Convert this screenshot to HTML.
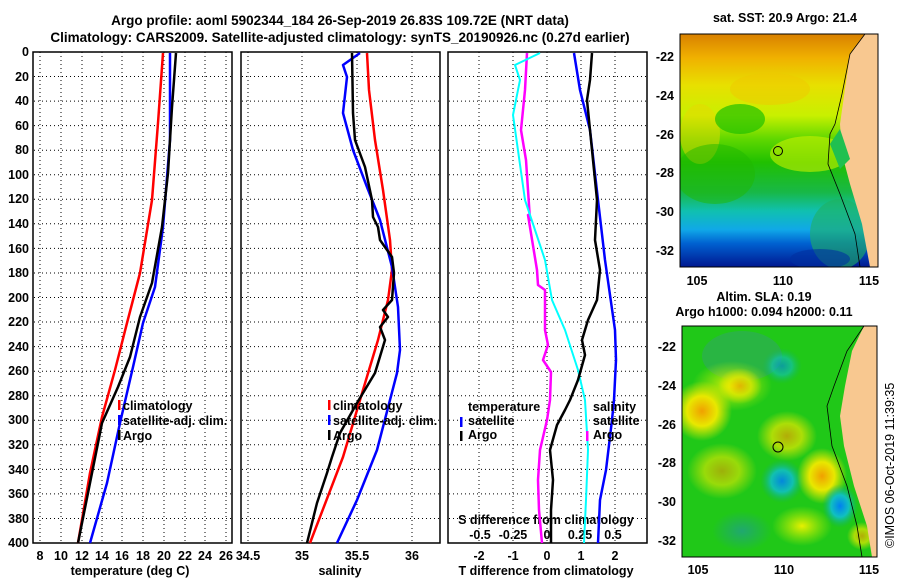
<!DOCTYPE html>
<html><head><meta charset="utf-8"><style>
body{margin:0;background:#fff;}
svg text{font-family:"Liberation Sans",sans-serif;font-weight:bold;font-size:12.5px;fill:#000}
</style></head><body>
<svg width="900" height="580" viewBox="0 0 900 580" xmlns="http://www.w3.org/2000/svg">
<defs>
<linearGradient id="sst" x1="0" y1="0" x2="0" y2="1">
<stop offset="0" stop-color="#d88000"/><stop offset="0.1" stop-color="#f0b000"/><stop offset="0.22" stop-color="#e8e000"/><stop offset="0.35" stop-color="#c8f000"/><stop offset="0.45" stop-color="#60d800"/><stop offset="0.55" stop-color="#20c000"/><stop offset="0.68" stop-color="#18b848"/><stop offset="0.76" stop-color="#10c0b0"/><stop offset="0.84" stop-color="#10a8e8"/><stop offset="0.9" stop-color="#0060d0"/><stop offset="1" stop-color="#001890"/>
</linearGradient>
<radialGradient id="yb"><stop offset="0" stop-color="#f0a000"/><stop offset="0.5" stop-color="#e8e800"/><stop offset="1" stop-color="#e8e800" stop-opacity="0"/></radialGradient>
<radialGradient id="yl"><stop offset="0" stop-color="#e8f000"/><stop offset="1" stop-color="#c0f000" stop-opacity="0"/></radialGradient>
<radialGradient id="bb"><stop offset="0" stop-color="#0080f0"/><stop offset="0.5" stop-color="#10c0c0"/><stop offset="1" stop-color="#10b060" stop-opacity="0"/></radialGradient>
<radialGradient id="gb"><stop offset="0" stop-color="#20a870"/><stop offset="1" stop-color="#20a870" stop-opacity="0"/></radialGradient>
</defs>

<text x="340" y="25" text-anchor="middle" style="font-size:13.5px">Argo profile: aoml 5902344_184 26-Sep-2019 26.83S 109.72E (NRT data)</text>
<text x="340" y="42" text-anchor="middle" style="font-size:13.5px">Climatology: CARS2009. Satellite-adjusted climatology: synTS_20190926.nc (0.27d earlier)</text>

<g stroke="#000" stroke-width="1" stroke-dasharray="1,3">
<g id="hg">
<line x1="34" x2="232" y1="76.5" y2="76.5"/><line x1="34" x2="232" y1="101.1" y2="101.1"/><line x1="34" x2="232" y1="125.6" y2="125.6"/><line x1="34" x2="232" y1="150.2" y2="150.2"/><line x1="34" x2="232" y1="174.7" y2="174.7"/><line x1="34" x2="232" y1="199.3" y2="199.3"/><line x1="34" x2="232" y1="223.8" y2="223.8"/><line x1="34" x2="232" y1="248.4" y2="248.4"/><line x1="34" x2="232" y1="273" y2="273"/><line x1="34" x2="232" y1="297.5" y2="297.5"/><line x1="34" x2="232" y1="322" y2="322"/><line x1="34" x2="232" y1="346.6" y2="346.6"/><line x1="34" x2="232" y1="371.2" y2="371.2"/><line x1="34" x2="232" y1="395.7" y2="395.7"/><line x1="34" x2="232" y1="420.3" y2="420.3"/><line x1="34" x2="232" y1="444.8" y2="444.8"/><line x1="34" x2="232" y1="469.4" y2="469.4"/><line x1="34" x2="232" y1="493.9" y2="493.9"/><line x1="34" x2="232" y1="518.5" y2="518.5"/>
</g>
<use href="#hg" x="208"/><use href="#hg" x="415"/>
<line x1="40" x2="40" y1="52" y2="543"/><line x1="61" x2="61" y1="52" y2="543"/><line x1="82" x2="82" y1="52" y2="543"/><line x1="102" x2="102" y1="52" y2="543"/><line x1="122" x2="122" y1="52" y2="543"/><line x1="143" x2="143" y1="52" y2="543"/><line x1="164" x2="164" y1="52" y2="543"/><line x1="185" x2="185" y1="52" y2="543"/><line x1="205" x2="205" y1="52" y2="543"/><line x1="226" x2="226" y1="52" y2="543"/>
<line x1="248" x2="248" y1="52" y2="543"/><line x1="302" x2="302" y1="52" y2="543"/><line x1="357" x2="357" y1="52" y2="543"/><line x1="412" x2="412" y1="52" y2="543"/>
<line x1="479" x2="479" y1="52" y2="543"/><line x1="513" x2="513" y1="52" y2="543"/><line x1="547" x2="547" y1="52" y2="543"/><line x1="581" x2="581" y1="52" y2="543"/><line x1="615" x2="615" y1="52" y2="543"/>
</g>

<g fill="none" stroke="#000" stroke-width="1.5">
<rect x="33" y="52" width="199" height="491"/><rect x="241" y="52" width="199" height="491"/><rect x="448" y="52" width="199" height="491"/>
</g>

<g text-anchor="end">
<text x="29" y="56">0</text><text x="29" y="81">20</text><text x="29" y="105">40</text><text x="29" y="130">60</text><text x="29" y="154">80</text><text x="29" y="179">100</text><text x="29" y="203">120</text><text x="29" y="228">140</text><text x="29" y="253">160</text><text x="29" y="277">180</text><text x="29" y="302">200</text><text x="29" y="326">220</text><text x="29" y="351">240</text><text x="29" y="375">260</text><text x="29" y="400">280</text><text x="29" y="424">300</text><text x="29" y="449">320</text><text x="29" y="474">340</text><text x="29" y="498">360</text><text x="29" y="523">380</text><text x="29" y="547">400</text>
</g>
<g text-anchor="middle">
<text x="40" y="560">8</text><text x="61" y="560">10</text><text x="82" y="560">12</text><text x="102" y="560">14</text><text x="122" y="560">16</text><text x="143" y="560">18</text><text x="164" y="560">20</text><text x="185" y="560">22</text><text x="205" y="560">24</text><text x="226" y="560">26</text>
<text x="130" y="575">temperature (deg C)</text>
<text x="248" y="560">34.5</text><text x="302" y="560">35</text><text x="357" y="560">35.5</text><text x="412" y="560">36</text>
<text x="340" y="575">salinity</text>
<text x="479" y="560">-2</text><text x="513" y="560">-1</text><text x="547" y="560">0</text><text x="581" y="560">1</text><text x="615" y="560">2</text>
<text x="546" y="575">T difference from climatology</text>
<text x="546" y="524">S difference from climatology</text>
<text x="480" y="539">-0.5</text><text x="513" y="539">-0.25</text><text x="547" y="539">0</text><text x="580" y="539">0.25</text><text x="613" y="539">0.5</text>
</g>

<g fill="none" stroke-width="2.5" stroke-linejoin="round">
<!-- panel 1 -->
<polyline stroke="#f00" points="163,53 158,123 152,200 140,273 127,323 115,370 102,417 90,473 78,543"/>
<polyline stroke="#00f" points="170,53 170,140 163,227 155,287 143,323 133,367 120,423 107,483 90,543"/>
<polyline stroke="#000" points="176,53 172,107 168,173 162,227 152,283 140,317 130,357 118,387 102,423 92,473 78,543"/>
<!-- panel 2 -->
<polyline stroke="#f00" points="367,53 369,90 375,140 383,190 390,240 392,270 388,300 378,340 363,390 343,457 310,543"/>
<polyline stroke="#00f" points="360,53 343,65 347,77 343,113 353,150 367,187 380,220 392,267 398,307 400,350 397,373 377,450 357,500 337,543"/>
<polyline stroke="#000" points="352,53 353,113 355,140 365,167 372,200 373,217 378,227 380,240 392,257 394,273 392,300 383,310 388,317 380,327 385,340 375,373 357,403 340,433 332,457 327,473 317,503 307,543"/>
<!-- panel 3 -->
<polyline stroke="#f0f" points="527,53 525,90 521,130 526,160 530,220 528,215 537,270 538,285 545,290 545,330 548,345 543,360 551,372 550,400 547,420 540,450 538,480 539,510 542,543"/>
<polyline stroke="#0ff" stroke-width="2" points="540,53 515,65 520,80 513,115 525,200 545,260 552,300 565,330 578,370 585,400 588,450 586,500 584,543"/>
<polyline stroke="#00f" points="574,53 580,90 590,130 598,200 605,260 615,330 616,360 614,400 612,420 606,470 600,500 598,543"/>
<polyline stroke="#000" points="592,53 590,80 587,100 592,150 597,200 595,240 600,270 597,300 588,320 582,340 585,355 578,380 570,400 565,410 557,425 550,450 553,480 551,510 551,543"/>
</g>

<rect x="118" y="400" width="2.5" height="10" fill="#f00"/><text x="123" y="410">climatology</text>
<rect x="118" y="415" width="2.5" height="10" fill="#00f"/><text x="123" y="425">satellite-adj. clim.</text>
<rect x="118" y="430" width="2.5" height="10" fill="#000"/><text x="123" y="440">Argo</text>
<rect x="328" y="400" width="2.5" height="10" fill="#f00"/><text x="333" y="410">climatology</text>
<rect x="328" y="415" width="2.5" height="10" fill="#00f"/><text x="333" y="425">satellite-adj. clim.</text>
<rect x="328" y="430" width="2.5" height="10" fill="#000"/><text x="333" y="440">Argo</text>
<text x="468" y="411">temperature</text>
<rect x="460" y="417" width="2.5" height="10" fill="#00f"/><text x="468" y="425">satellite</text>
<rect x="460" y="431" width="2.5" height="10" fill="#000"/><text x="468" y="439">Argo</text>
<text x="593" y="411">salinity</text><text x="593" y="425">satellite</text>
<rect x="586" y="431" width="2.5" height="10" fill="#f0f"/><text x="593" y="439">Argo</text>

<!-- top map -->
<svg x="680" y="34" width="198" height="233" viewBox="0 0 198 233">
<rect width="198" height="233" fill="url(#sst)"/>
<ellipse cx="90" cy="55" rx="40" ry="16" fill="#f0c800" opacity="0.5"/>
<ellipse cx="20" cy="100" rx="20" ry="30" fill="#e8d800" opacity="0.5"/>
<ellipse cx="60" cy="85" rx="25" ry="15" fill="#20c000" opacity="0.7"/>
<ellipse cx="130" cy="120" rx="40" ry="18" fill="#c8f000" opacity="0.6"/>
<ellipse cx="35" cy="140" rx="40" ry="30" fill="#20b800" opacity="0.5"/>
<ellipse cx="160" cy="200" rx="30" ry="35" fill="#20b060" opacity="0.6"/>
<ellipse cx="140" cy="225" rx="30" ry="10" fill="#0030a0" opacity="0.6"/>
<path d="M198,0 L185,0 L170,20 L165,55 L160,90 L162,120 L170,150 L182,190 L190,233 L198,233Z" fill="#f8c890"/>
<path d="M185,0 L170,20 L162,60 L155,90 L150,100 L148,130 L160,160 L175,200 L180,233" fill="none" stroke="#000" stroke-width="0.8"/>
<path d="M160,95 L165,110 L170,125 L160,135 L150,110Z" fill="#20c050"/>
<circle cx="98" cy="117" r="4.5" fill="none" stroke="#000"/>
</svg>
<rect x="680" y="34" width="198" height="233" fill="none" stroke="#000"/>
<text x="785" y="22" text-anchor="middle">sat. SST: 20.9 Argo: 21.4</text>
<g text-anchor="end"><text x="674" y="61">-22</text><text x="674" y="100">-24</text><text x="674" y="139">-26</text><text x="674" y="177">-28</text><text x="674" y="216">-30</text><text x="674" y="255">-32</text></g>
<g text-anchor="middle"><text x="697" y="285">105</text><text x="783" y="285">110</text><text x="869" y="285">115</text></g>
<text x="764" y="301" text-anchor="middle">Altim. SLA: 0.19</text>
<text x="764" y="316" text-anchor="middle">Argo h1000: 0.094 h2000: 0.11</text>

<!-- bottom map -->
<svg x="682" y="326" width="195" height="231" viewBox="0 0 195 231">
<rect width="195" height="231" fill="#20c818"/>
<ellipse cx="60" cy="30" rx="40" ry="25" fill="#30a860" opacity="0.6"/>
<ellipse cx="50" cy="60" rx="40" ry="25" fill="url(#yl)"/>
<ellipse cx="20" cy="85" rx="30" ry="30" fill="url(#yb)"/>
<ellipse cx="58" cy="60" rx="22" ry="18" fill="url(#yb)" opacity="0.7"/>
<ellipse cx="100" cy="40" rx="20" ry="18" fill="url(#bb)" opacity="0.6"/>
<ellipse cx="105" cy="110" rx="30" ry="25" fill="url(#yb)" opacity="0.7"/>
<ellipse cx="40" cy="145" rx="35" ry="28" fill="url(#yb)" opacity="0.6"/>
<ellipse cx="100" cy="155" rx="22" ry="22" fill="url(#bb)" opacity="0.9"/>
<ellipse cx="140" cy="150" rx="25" ry="28" fill="url(#yb)"/>
<ellipse cx="158" cy="180" rx="18" ry="22" fill="url(#bb)"/>
<ellipse cx="120" cy="200" rx="30" ry="20" fill="url(#yl)"/>
<ellipse cx="180" cy="210" rx="15" ry="14" fill="url(#yb)" opacity="0.7"/>
<ellipse cx="60" cy="205" rx="30" ry="20" fill="url(#gb)"/>
<path d="M195,0 L182,0 L170,25 L163,60 L158,90 L162,120 L172,160 L185,200 L190,231 L195,231Z" fill="#f8c890"/>
<path d="M182,0 L165,25 L152,60 L145,80 L150,120 L165,160 L175,200 L180,231" fill="none" stroke="#000" stroke-width="0.8"/>
<circle cx="96" cy="121" r="5" fill="none" stroke="#000"/>
</svg>
<rect x="682" y="326" width="195" height="231" fill="none" stroke="#000"/>
<g text-anchor="end"><text x="676" y="351">-22</text><text x="676" y="390">-24</text><text x="676" y="429">-26</text><text x="676" y="467">-28</text><text x="676" y="506">-30</text><text x="676" y="545">-32</text></g>
<g text-anchor="middle"><text x="698" y="574">105</text><text x="784" y="574">110</text><text x="869" y="574">115</text></g>
<text transform="translate(894,548) rotate(-90)" style="font-weight:normal">©IMOS 06-Oct-2019 11:39:35</text>
</svg>
</body></html>
